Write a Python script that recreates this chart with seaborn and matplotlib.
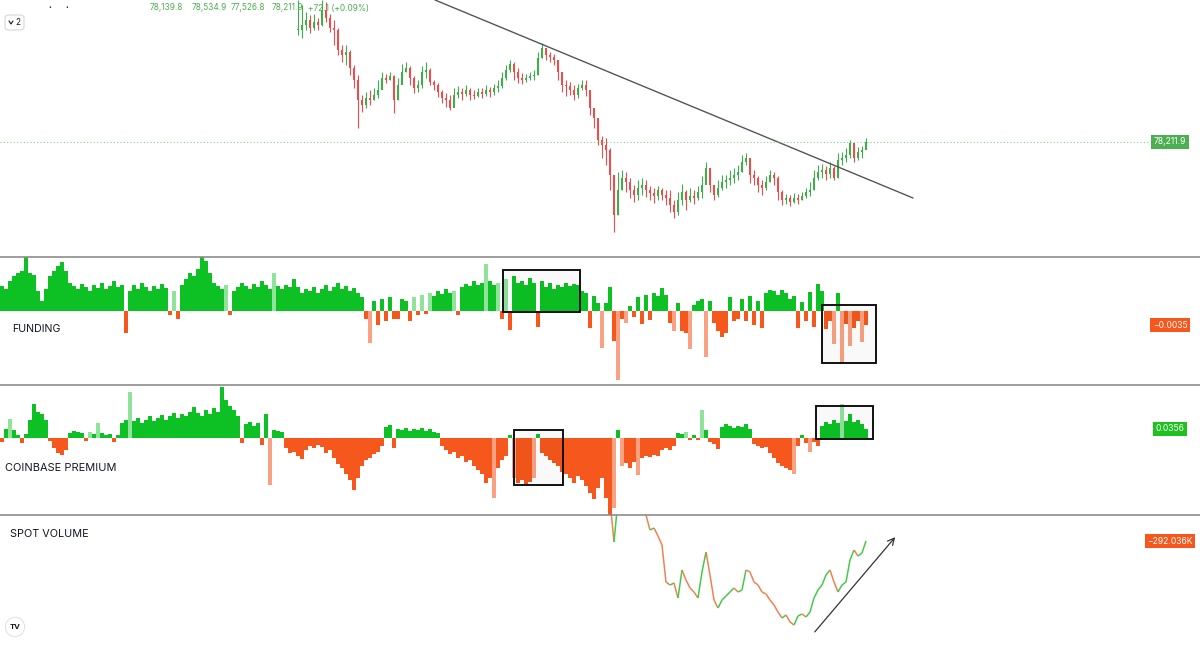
"""TradingView-style BTC panel: price, funding, Coinbase premium and spot volume delta."""
import matplotlib.pyplot as plt
import numpy as np
import seaborn as sns
from matplotlib.collections import LineCollection
from matplotlib.lines import Line2D
from matplotlib.patches import FancyBboxPatch, Rectangle

# Each bar below is one 4-candle bucket of the original chart (bucket 0 = left edge).
funding_e4 = [
    62, 55, 75, 88, 95, 100, 135, 95, 90, 50,
    25, 55, 88, 100, 112, 122, 100, 70, 62, 55,
    68, 60, 50, 65, 58, 70, 55, 62, 75, 60,
    65, -55, 50, 65, 55, 70, 60, 50, 62, 55,
    68, 58, -10, 50, -20, 65, 80, 95, 88, 105,
    135, 125, 95, 70, 62, 55, 65, -10, 50, 60,
    70, 62, 55, 68, 60, 75, 65, 55, 95, 62,
    55, 65, 60, 80, 60, 45, 55, 50, 60, 45,
    55, 65, 50, 60, 70, 55, 62, 50, 58, 45,
    35, -20, -80, 25, -35, 30, -25, 35, -20, -20,
    30, 25, -25, 35, -10, 40, -8, 45, 38, 50,
    42, 55, 45, 50, -10, 60, 68, 62, 75, 65,
    70, 118, 75, 65, 70, -20, 80, -48, 88, 70,
    75, 65, 82, 70, -40, 75, 60, 70, 55, 65,
    60, 70, 62, 68, 65, 50, 45, -42, 38, 20,
    -92, 20, 60, -75, -172, -20, -30, 12, -15, 35,
    -32, 40, -22, 45, 38, 58, 40, -30, -50, 20,
    -50, -55, -95, 15, 25, 30, -115, 25, -30, -50,
    -65, -55, 35, -25, -20, 30, -25, 38, -35, 25,
    -42, 45, 52, 50, 40, 52, 45, 30, 38, -42,
    22, -25, 48, -40, 68, 50, -45, -25, -82, 45,
    -130, -32, -88, -42, -25, -78, -35,
]

premium_e3 = [
    -16, 36, 76, 32, 12, -20, 16, 72, 136, 104,
    96, 72, -12, -40, -60, -68, -48, 20, 28, 24,
    20, -12, 24, 16, 60, 20, 12, 16, -16, 12,
    60, 72, 184, 68, 80, 60, 72, 88, 68, 80,
    92, 72, 88, 100, 80, 96, 88, 104, 124, 100,
    88, 112, 96, 120, 104, 204, 152, 128, 112, 88,
    -20, 56, 64, 48, 60, -28, 96, -188, 32, 28,
    24, -40, -60, -56, -72, -84, -48, -32, -40, -28,
    -36, -60, -48, -80, -104, -120, -144, -168, -208, -160,
    -112, -88, -80, -64, -56, -32, 44, 52, -40, 36,
    32, 40, 28, 36, 32, 40, 28, 36, 24, 20,
    -32, -48, -64, -56, -80, -72, -96, -88, -112, -128,
    -144, -180, -160, -240, -120, -88, -72, 12, -160, -180,
    -168, -188, -176, -160, 16, -60, -72, -88, -100, -112,
    -136, -144, -160, -180, -152, -168, -192, -220, -244, -200,
    -160, -240, -308, -280, 32, -112, -100, -120, -96, -148,
    -80, -72, -76, -68, -72, -48, -40, -48, -32, 20,
    16, 24, -8, 12, -8, 112, 32, -16, -24, -44,
    44, 56, 48, 40, 48, 44, 56, 36, -24, -32,
    -40, -36, -60, -80, -100, -112, -120, -128, -144, -32,
    12, -20, -56, -16, -32, 48, 64, 56, 72, 60,
    136, 68, 96, 64, 72, 56, 36,
]

# price candles (thousand USD), first visible bucket = 74
price_start = 74
price_close = [
    89.4, 89.9, 90.4, 89.6, 90.2, 89.9, 91.4, 90.6, 89.6, 89.4,
    87.4, 86.9, 87.2, 85.6, 84.4, 82.4, 81.9, 82.6, 82.4, 82.9,
    83.4, 84.6, 84.4, 84.8, 82.4, 83.9, 85.2, 85.6, 84.6, 83.6,
    83.9, 85.2, 85.4, 84.2, 83.9, 83.2, 82.6, 82.4, 81.6, 82.9,
    83.2, 83.0, 83.4, 82.9, 82.8, 83.2, 83.0, 83.4, 83.2, 83.6,
    83.8, 84.6, 85.4, 86.0, 85.2, 84.6, 84.4, 84.6, 84.8, 84.9,
    86.6, 87.6, 86.9, 86.7, 86.4, 85.2, 83.9, 83.8, 83.4, 82.9,
    83.6, 83.9, 83.4, 81.6, 80.6, 78.4, 77.9, 77.4, 74.9, 70.9,
    73.4, 74.6, 74.2, 73.4, 72.9, 73.6, 73.9, 73.4, 73.1, 72.8,
    73.4, 72.9, 72.6, 71.9, 71.2, 72.4, 73.2, 72.4, 72.8, 72.6,
    73.2, 73.9, 75.6, 73.9, 72.9, 73.6, 74.2, 74.4, 74.6, 74.9,
    75.2, 76.2, 76.6, 74.9, 74.6, 73.9, 73.6, 74.2, 74.9, 74.6,
    73.2, 72.4, 72.6, 72.2, 72.6, 72.4, 72.8, 73.2, 73.4, 74.6,
    75.2, 75.4, 75.0, 75.6, 74.6, 76.4, 76.6, 76.9, 78.1, 76.6,
    77.2, 77.4, 78.2,
]
price_high = [
    92.4, 91.9, 91.2, 90.9, 91.0, 90.6, 92.4, 92.2, 91.0, 90.4,
    89.6, 87.9, 87.9, 87.4, 85.9, 84.9, 82.9, 83.2, 83.4, 83.6,
    84.4, 85.2, 85.0, 85.2, 84.9, 84.6, 86.0, 86.2, 85.8, 84.8,
    84.4, 85.8, 86.2, 85.6, 84.4, 84.1, 83.4, 83.1, 82.9, 83.6,
    83.8, 83.6, 83.9, 83.6, 83.4, 83.6, 83.6, 83.9, 83.7, 84.0,
    84.4, 85.2, 85.9, 86.4, 86.2, 85.6, 85.1, 85.0, 85.2, 85.4,
    87.2, 88.1, 87.6, 87.2, 87.0, 86.4, 85.2, 84.4, 84.2, 83.9,
    84.0, 84.4, 84.4, 83.4, 81.4, 80.6, 78.8, 78.6, 77.6, 74.9,
    75.2, 75.4, 75.2, 74.6, 73.9, 74.4, 74.6, 74.4, 73.8, 73.6,
    73.8, 73.6, 73.4, 73.4, 72.4, 73.2, 74.0, 73.4, 73.6, 73.4,
    73.8, 74.8, 76.2, 75.6, 73.9, 74.4, 74.9, 74.9, 75.4, 75.6,
    75.9, 76.9, 77.1, 76.6, 75.4, 74.8, 74.4, 74.8, 75.4, 75.2,
    74.8, 73.4, 73.0, 72.9, 73.1, 73.0, 73.2, 73.6, 74.2, 75.4,
    75.9, 76.0, 75.8, 76.2, 75.8, 77.1, 77.2, 77.6, 78.4, 77.9,
    77.7, 77.8, 78.6,
]
price_low = [
    88.9, 88.6, 89.4, 89.1, 89.4, 89.4, 89.8, 90.2, 89.2, 87.9,
    86.9, 86.2, 85.9, 84.9, 83.6, 79.6, 81.2, 81.6, 81.9, 82.4,
    82.6, 84.2, 84.1, 84.4, 81.1, 82.4, 84.4, 85.2, 83.9, 83.1,
    83.2, 83.6, 84.6, 83.9, 83.4, 82.7, 82.1, 81.7, 81.4, 82.2,
    82.6, 82.4, 82.8, 82.4, 82.5, 82.7, 82.6, 82.8, 82.7, 82.9,
    83.2, 83.6, 84.4, 85.2, 84.4, 84.1, 84.0, 84.2, 84.4, 84.4,
    84.9, 86.6, 86.4, 86.2, 85.9, 84.4, 83.2, 82.8, 82.9, 82.4,
    82.6, 83.4, 82.8, 80.9, 79.6, 77.9, 76.6, 75.9, 73.4, 69.2,
    70.9, 73.4, 73.2, 72.6, 72.2, 72.4, 72.9, 72.7, 72.4, 72.1,
    72.4, 72.4, 71.9, 71.2, 70.6, 70.9, 71.9, 71.4, 72.2, 72.0,
    72.4, 72.6, 74.2, 73.2, 72.4, 72.7, 73.4, 73.6, 73.9, 74.1,
    74.4, 75.2, 75.9, 74.1, 73.9, 73.2, 72.9, 73.4, 74.2, 73.9,
    72.4, 71.9, 72.0, 71.8, 72.1, 72.0, 72.4, 72.6, 72.8, 73.4,
    74.4, 74.6, 74.4, 74.6, 74.4, 74.6, 75.9, 76.2, 76.6, 76.2,
    76.4, 76.6, 77.5,
]

# spot volume delta (K), first bucket = 152, nan where the line is off-pane
spot_start = 152
spot_k = [
    -87, -297, -87, np.nan, np.nan, np.nan, np.nan, np.nan, -87, -162,
    -237, -227, -267, -312, -497, -512, -502, -577, -437, -487,
    -527, -547, -577, -447, -347, -462, -587, -627, -587, -567,
    -547, -527, -547, -537, -437, -447, -497, -512, -547, -557,
    -587, -612, -647, -677, -662, -697, -712, -667, -657, -672,
    -647, -577, -537, -512, -462, -437, -497, -547, -512, -497,
    -387, -337, -367, -352, -292,
]

header_vals = ["78,139.8", "78,534.9", "77,526.8", "78,211.9", "+72.1 (+0.09%)"]
last_price = 78.2119

# drawings on the chart: (bucket, value)
trend_x, trend_p = [108.75, 228.25], [92.4, 72.6]
arrow_from, arrow_to = (203.25, -757), (224.25, -262)
funding_boxes = [(125.75, 145.0, -0.00025, 0.01025), (205.5, 219.0, -0.013, 0.0015)]
premium_boxes = [(128.5, 140.75, -0.189, 0.031), (204.0, 218.25, -0.005, 0.127)]

GREEN, GREEN_L = "#0dc124", "#8fe39b"
ORANGE, ORANGE_L = "#f5571c", "#f8a283"
UP, DOWN = "#3fae49", "#ec4c4c"

sns.set_theme(style="white")
plt.rcParams["font.family"] = ["Inter", "DejaVu Sans"]

W, H = 1200, 656
fig = plt.figure(figsize=(12, 6.56), dpi=100)


def pane(top, bottom):
    ax = fig.add_axes([0, 1 - bottom / H, 1, (bottom - top) / H])
    ax.set_xlim(0, 300)
    ax.set_axis_off()
    return ax


ax_p = pane(0, 257)
ax_f = pane(257, 385)
ax_c = pane(385, 515)
ax_s = pane(515, 656)


def shade(vals):
    # isolated spikes are drawn in the lighter tone, like the original histogram
    vals = np.asarray(vals, dtype=float)
    cols = []
    for k, v in enumerate(vals):
        nb = [abs(vals[j]) for j in (k - 1, k + 1) if 0 <= j < len(vals)]
        spike = abs(v) > 1.6 * np.mean(nb)
        if v >= 0:
            cols.append(GREEN_L if spike else GREEN)
        else:
            cols.append(ORANGE_L if spike else ORANGE)
    return cols


def boxes(ax, specs):
    for x0, x1, y0, y1 in specs:
        ax.add_patch(Rectangle((x0, y0), x1 - x0, y1 - y0, fc=(0, 0, 0, 0.025),
                               ec="#111111", lw=1.4, zorder=5))


def tag(ax, y, text, color):
    ax.text(292.5, y, text, ha="center", va="center", fontsize=6.2, color="white",
            bbox=dict(boxstyle="square,pad=0.3", fc=color, ec="none"), zorder=6)


# --- price pane
close = np.array(price_close)
opn = np.r_[close[0], close[:-1]]
xs = price_start + np.arange(len(close)) + 0.5
up = close >= opn
ccol = np.where(up, UP, DOWN)
ax_p.vlines(xs, price_low, price_high, colors=ccol, lw=0.8)
ax_p.bar(xs, np.maximum(np.abs(close - opn), 0.15), bottom=np.minimum(close, opn),
         width=0.6, color=ccol, linewidth=0)
sns.lineplot(x=trend_x, y=trend_p, ax=ax_p, color="#555555", lw=1.0)
ax_p.axhline(last_price, xmax=1150 / 1200, color="#7fd38a", lw=0.8, ls=(0, (1, 2)))
ax_p.set_ylim(66.7, 92.4)
ax_p.set_xlim(0, 300)
tag(ax_p, last_price, "78,211.9", "#4caf50")

# --- funding pane
f = np.array(funding_e4) / 1e4
ax_f.bar(np.arange(len(f)) + 0.5, f, width=1.03, color=shade(f), linewidth=0)
ax_f.set_ylim(-0.0185, 0.0135)
boxes(ax_f, funding_boxes)
tag(ax_f, -0.0035, "\u22120.0035", ORANGE)
ax_f.text(3, -0.0045, "FUNDING", fontsize=7.7, color="#131722", va="center")

# --- coinbase premium pane
c = np.array(premium_e3) / 1e3
ax_c.bar(np.arange(len(c)) + 0.5, c, width=1.03, color=shade(c), linewidth=0)
ax_c.set_ylim(-0.309, 0.211)
boxes(ax_c, premium_boxes)
tag(ax_c, 0.0356, "0.0356", "#1ec21e")
ax_c.text(1.2, -0.122, "COINBASE PREMIUM", fontsize=7.9, color="#131722", va="center")

# --- spot volume pane
s = np.array(spot_k, dtype=float)
sx = spot_start + np.arange(len(s)) + 0.5
segs, scol = [], []
for k in range(len(s) - 1):
    if np.isnan(s[k]) or np.isnan(s[k + 1]):
        continue
    segs.append([(sx[k], s[k]), (sx[k + 1], s[k + 1])])
    scol.append("#46c94a" if s[k + 1] >= s[k] else "#f0824f")
ax_s.add_collection(LineCollection(segs, colors=scol, linewidths=1.1))
ax_s.set_ylim(-867, -162)
ax_s.annotate("", xy=arrow_to, xytext=arrow_from,
              arrowprops=dict(arrowstyle="->", color="#333333", lw=0.9))
tag(ax_s, -292.036, "\u2212292.036K", ORANGE)
ax_s.text(2.5, -257, "SPOT VOLUME", fontsize=7.8, color="#131722", va="center")

# pane separators
for y in (257, 385, 515):
    fig.add_artist(Line2D([0, 1], [1 - y / H] * 2, color="#8c8c8c", lw=1.2))

# header legend
for x, t in zip((150, 192, 231, 272, 308), header_vals):
    fig.text(x / W, 1 - 8 / H, t, fontsize=6.0, color="#4caf50", va="center")
for x in (50, 67):
    fig.text(x / W, 1 - 8 / H, "\u2022", fontsize=3.5, color="#131722", ha="center", va="center")
fig.add_artist(FancyBboxPatch((5 / W, 1 - 30 / H), 19 / W, 15 / H,
                              boxstyle="round,pad=0,rounding_size=0.004",
                              fc="white", ec="#d6d6d6", lw=0.8))
fig.add_artist(Line2D([9 / W, 11 / W, 13 / W], [1 - 21 / H, 1 - 24 / H, 1 - 21 / H],
                      color="#131722", lw=0.8))
fig.text(15.5 / W, 1 - 22.5 / H, "2", fontsize=6, color="#131722", va="center")

# TradingView badge
fig.text(15 / W, 1 - 627 / H, "TV", fontsize=5.5, fontweight="bold", color="#131722",
         ha="center", va="center",
         bbox=dict(boxstyle="circle,pad=0.55", fc="white", ec="#e0e3eb", lw=0.8))

fig.savefig("out.png", dpi=100)
